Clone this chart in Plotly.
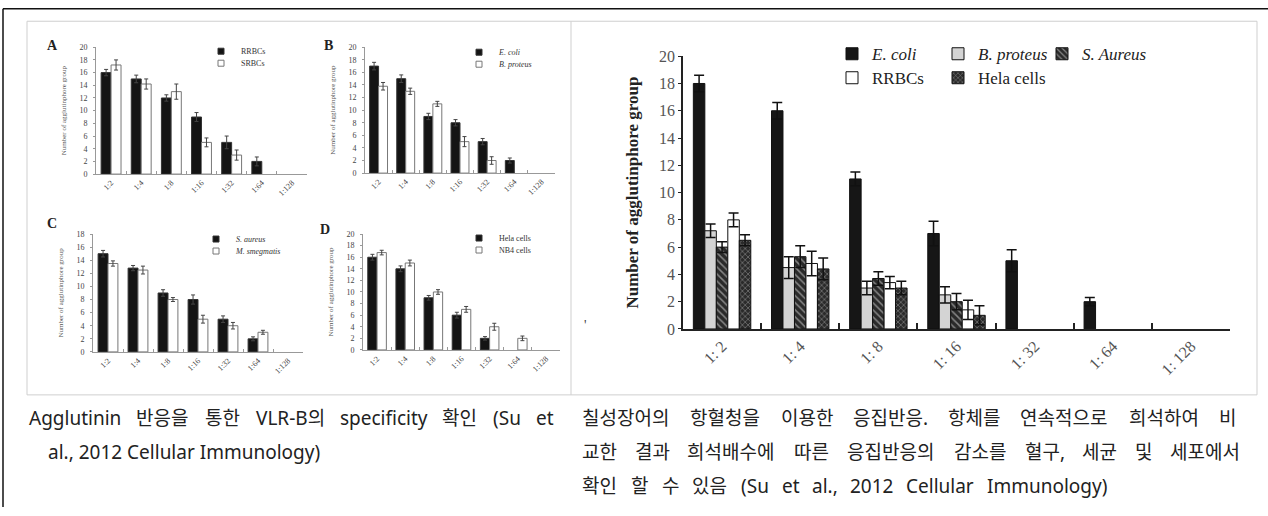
import plotly.graph_objects as go

W, H = 1268, 516
SERIF = "Liberation Serif"
CAP_FONT = "Noto Sans, Noto Sans CJK KR"
CAP_SIZE = 19

# ---------------- data ----------------
cats_small = ["1:2", "1:4", "1:8", "1:16", "1:32", "1:64", "1:128"]
cats_main = ["1: 2", "1: 4", "1: 8", "1: 16", "1: 32", "1: 64", "1: 128"]

a_rrbc = [16, 15, 12, 9, 5, 2, 0]
a_rrbc_err = [0.5, 0.6, 0.5, 0.7, 1.0, 0.7, 0]
a_srbc = [17.2, 14.2, 13, 5, 3, 0, 0]
a_srbc_err = [0.8, 0.8, 1.2, 0.7, 0.8, 0, 0]

b_ecoli = [17, 15, 9, 8, 5, 2, 0]
b_ecoli_err = [0.6, 0.6, 0.5, 0.5, 0.5, 0.4, 0]
b_bprot = [13.8, 13, 11, 5, 2, 0, 0]
b_bprot_err = [0.6, 0.5, 0.4, 0.8, 0.6, 0, 0]

c_saur = [15, 12.8, 9, 8, 5, 2, 0]
c_saur_err = [0.5, 0.4, 0.5, 0.7, 0.5, 0.3, 0]
c_msmeg = [13.5, 12.5, 8, 5, 4, 3, 0]
c_msmeg_err = [0.4, 0.6, 0.3, 0.6, 0.5, 0.3, 0]

d_hela = [16, 14, 9, 6, 2, 0, 0]
d_hela_err = [0.5, 0.5, 0.4, 0.5, 0.3, 0, 0]
d_nb4 = [16.8, 15, 10, 7, 4, 2, 0]
d_nb4_err = [0.4, 0.5, 0.4, 0.5, 0.6, 0.4, 0]

m_ecoli = [18, 16, 11, 7, 5, 2, 0]
m_ecoli_err = [0.6, 0.6, 0.5, 0.9, 0.8, 0.3, 0]
m_bprot = [7.2, 4.5, 3.0, 2.5, 0, 0, 0]
m_bprot_err = [0.5, 0.8, 0.5, 0.6, 0, 0, 0]
m_saur = [6.0, 5.3, 3.7, 2.0, 0, 0, 0]
m_saur_err = [0.4, 0.8, 0.5, 0.6, 0, 0, 0]
m_rrbc = [8.0, 4.8, 3.4, 1.4, 0, 0, 0]
m_rrbc_err = [0.5, 0.9, 0.45, 0.7, 0, 0, 0]
m_hela = [6.5, 4.4, 3.0, 1.0, 0, 0, 0]
m_hela_err = [0.4, 0.8, 0.5, 0.7, 0, 0, 0]

caption_left = ["Agglutinin 반응을 통한 VLR-B의 specificity 확인 (Su et",
                "al., 2012 Cellular Immunology)"]
caption_right = ["칠성장어의 항혈청을 이용한 응집반응. 항체를 연속적으로 희석하여 비",
                 "교한 결과 희석배수에 따른 응집반응의 감소를 혈구, 세균 및 세포에서",
                 "확인 할 수 있음 (Su et al., 2012 Cellular Immunology)"]

# the page photo is squeezed vertically a little; place things so they land right
Y_OFF, Y_SCALE = 7.74, 0.968


def px_x(p):
    return p / W


def px_y(p):
    page = (p - Y_OFF) / Y_SCALE
    return 1 - page / H


def nz(vals):
    # no bar is drawn where no agglutination was seen
    return [v if v else None for v in vals]


# rough advance widths (em) used to justify caption words like the original
LAT = {"a": .56, "b": .62, "c": .48, "d": .62, "e": .56, "f": .34, "g": .62, "h": .62,
       "i": .26, "j": .26, "k": .53, "l": .26, "m": .94, "n": .62, "o": .6, "p": .62,
       "q": .62, "r": .41, "s": .48, "t": .36, "u": .62, "v": .51, "w": .79, "x": .53,
       "y": .51, "z": .47, "A": .64, "B": .65, "C": .63, "I": .33, "L": .52, "R": .62,
       "S": .55, "V": .62, "-": .32, "(": .3, ")": .3, ",": .26, ".": .27, " ": .26}


def text_w(s, size):
    w = 0.0
    for ch in s:
        if "\uac00" <= ch <= "\ud7a3":
            w += 0.95
        elif ch.isdigit():
            w += .57
        else:
            w += LAT.get(ch, .55)
    return w * size


def word_layout(line, x_start, x_end, size):
    words = line.split(" ")
    widths = [text_w(wd, size) for wd in words]
    gap = (x_end - x_start - sum(widths)) / (len(words) - 1)
    out, cur = [], x_start
    for wd, w in zip(words, widths):
        out.append((wd, cur))
        cur += w + gap
    return out


fig = go.Figure()
annotations = []
legends = {}
leg_count = [0]


def new_legend(text_x, yc, size):
    leg_count[0] += 1
    n = leg_count[0]
    lname = "legend" if n == 1 else "legend%d" % n
    legends[lname] = dict(
        x=px_x(text_x - 41), y=px_y(yc), xanchor="left", yanchor="middle",
        bgcolor="rgba(0,0,0,0)", borderwidth=0,
        font=dict(family=SERIF, size=size, color="#222" if size > 10 else "#333"))
    return lname


# ---------------- small panels ----------------
panels = [
    ("A", "", (96, 307), (174, 47), 20,
     [("RRBCs", a_rrbc, a_rrbc_err, True), ("SRBCs", a_srbc, a_srbc_err, False)],
     (53, 45), (242, 51)),
    ("B", "2", (365, 555), (173, 47), 20,
     [("<i>E. coli</i>", b_ecoli, b_ecoli_err, True), ("<i>B. proteus</i>", b_bprot, b_bprot_err, False)],
     (328, 45), (500, 52)),
    ("C", "3", (93, 303), (352, 234), 18,
     [("<i>S. aureus</i>", c_saur, c_saur_err, True), ("<i>M. smegmatis</i>", c_msmeg, c_msmeg_err, False)],
     (52, 223), (237, 239)),
    ("D", "4", (363, 560), (350, 234), 20,
     [("Hela cells", d_hela, d_hela_err, True), ("NB4 cells", d_nb4, d_nb4_err, False)],
     (325, 229), (500, 238)),
]

for letter, sfx, (x0, x1), (y0, y1), ymax, series, lpos, legpos in panels:
    xa = "x" + sfx
    ya = "y" + sfx
    for k, (name, vals, errs, dark) in enumerate(series):
        fig.add_trace(go.Bar(
            x=cats_small, y=nz(vals), xaxis=xa, yaxis=ya,
            width=0.33, offset=-0.33 if k == 0 else 0.0,
            marker=dict(color="#141414" if dark else "white",
                        line=dict(color="#333" if dark else "#777", width=1)),
            error_y=dict(type="data", array=errs, visible=True, color="#444",
                         thickness=1, width=2),
            showlegend=False, name=name))
        lname = new_legend(legpos[0], legpos[1] + 12 * k, 8)
        fig.add_trace(go.Scatter(
            x=[None], y=[None], xaxis=xa, yaxis=ya, mode="markers", name=name,
            marker=dict(symbol="square", size=6,
                        color="#141414" if dark else "white",
                        line=dict(color="#333" if dark else "#777", width=1)),
            legend=lname, showlegend=True))
    annotations.append(dict(text="<b>%s</b>" % letter, x=px_x(lpos[0]), y=px_y(lpos[1]),
                            xref="paper", yref="paper", xanchor="center", yanchor="middle",
                            showarrow=False,
                            font=dict(family=SERIF, size=14, color="#222")))
    xkey = "xaxis" + sfx
    ykey = "yaxis" + sfx
    fig.layout[xkey] = dict(
        domain=[px_x(x0), px_x(x1)], anchor=ya, type="category", range=[-0.5, 6.5],
        showline=True, linecolor="#999", linewidth=1, ticks="inside", ticklen=3,
        tickcolor="#999", tickson="boundaries", tickangle=-45, showgrid=False,
        zeroline=False, tickfont=dict(family=SERIF, size=8, color="#444"))
    fig.layout[ykey] = dict(
        domain=[px_y(y0), px_y(y1)], anchor=xa, range=[0, ymax], dtick=2,
        showline=True, linecolor="#999", linewidth=1, ticks="outside", ticklen=2,
        tickcolor="#999", showgrid=False, zeroline=False, ticklabelstandoff=4,
        tickfont=dict(family=SERIF, size=8, color="#444"),
        title=dict(text="Number of agglutinphore group", standoff=11,
                   font=dict(family=SERIF, size=7, color="#555")))

# ---------------- main panel ----------------
main_series = [
    ("<i>E. coli</i>", m_ecoli, m_ecoli_err, dict(color="#161616"), (873, 54)),
    ("<i>B. proteus</i>", m_bprot, m_bprot_err, dict(color="#d4d4d4"), (979, 54)),
    ("<i>S. Aureus</i>", m_saur, m_saur_err,
     dict(color="#2a2a2a", pattern=dict(shape="\\", fgcolor="#e0e0e0", bgcolor="#2a2a2a",
                                        size=5, solidity=0.3)), (1083, 54)),
    ("RRBCs", m_rrbc, m_rrbc_err, dict(color="white"), (873, 78)),
    ("Hela cells", m_hela, m_hela_err,
     dict(color="#2a2a2a", pattern=dict(shape="x", fgcolor="#d8d8d8", bgcolor="#2a2a2a",
                                        size=4, solidity=0.3)), (979, 78)),
]
bw = 0.147
for k, (name, vals, errs, mk, lp) in enumerate(main_series):
    mk = dict(mk)
    mk["line"] = dict(color="#111", width=1)
    lname = new_legend(lp[0], lp[1], 17)
    fig.add_trace(go.Bar(
        x=cats_main, y=nz(vals), xaxis="x5", yaxis="y5", name=name,
        width=bw, offset=-2.5 * bw + k * bw, marker=mk,
        error_y=dict(type="data", array=errs, visible=True, color="#111",
                     thickness=1.5, width=5),
        legend=lname, showlegend=True))

fig.layout["xaxis5"] = dict(
    domain=[px_x(683), px_x(1230)], anchor="y5", type="category", range=[-0.5, 6.5],
    showline=True, linecolor="#222", linewidth=1.5, ticks="inside", ticklen=6,
    tickcolor="#222", tickwidth=1.5, tickson="boundaries", tickangle=-45,
    showgrid=False, zeroline=False,
    tickfont=dict(family=SERIF, size=16, color="#555"))
fig.layout["yaxis5"] = dict(
    domain=[px_y(329), px_y(56)], anchor="x5", range=[0, 20], dtick=2,
    showline=True, linecolor="#222", linewidth=1.5, ticks="outside", ticklen=3,
    tickcolor="#222", showgrid=False, zeroline=False,
    tickfont=dict(family=SERIF, size=16, color="#555"),
    title=dict(text="<b>Number of agglutinphore group</b>", standoff=16,
               font=dict(family=SERIF, size=17, color="#222")))

# small stray mark left of the main panel in the original
annotations.append(dict(text="'", x=px_x(585), y=px_y(326), xref="paper", yref="paper",
                        xanchor="center", yanchor="middle", showarrow=False,
                        font=dict(family=SERIF, size=14, color="#444")))

# ---------------- captions (word by word, justified like the original) ----------------
cap_lines = [
    (caption_left[0], 27, 551, 418, True),
    (caption_left[1], 46, 316, 452, False),
    (caption_right[0], 580, 1235, 418, True),
    (caption_right[1], 580, 1240, 452, True),
    (caption_right[2], 580, 1105, 486, True),
]
for line, xs, xe, yc, justify in cap_lines:
    pieces = word_layout(line, xs, xe, CAP_SIZE) if justify else [(line, xs)]
    for wd, xw in pieces:
        annotations.append(dict(text=wd, x=px_x(xw), y=px_y(yc), xref="paper", yref="paper",
                                xanchor="left", yanchor="middle", showarrow=False,
                                font=dict(family=CAP_FONT, size=CAP_SIZE, color="#222")))

top_y = 1 - 0.75 / H
shapes = [
    dict(type="line", xref="paper", yref="paper", x0=px_x(3), x1=1, y0=top_y, y1=top_y,
         line=dict(color="#111", width=1.5)),
    dict(type="line", xref="paper", yref="paper", x0=px_x(3), x1=px_x(3), y0=0, y1=top_y,
         line=dict(color="#111", width=1.5)),
    dict(type="rect", xref="paper", yref="paper", x0=px_x(27), x1=px_x(1257),
         y0=px_y(395), y1=px_y(21), line=dict(color="#cfcfcf", width=1)),
    dict(type="line", xref="paper", yref="paper", x0=px_x(571), x1=px_x(571),
         y0=px_y(395), y1=px_y(21), line=dict(color="#cfcfcf", width=1)),
]

fig.update_layout(
    width=W, height=H, margin=dict(l=0, r=0, t=0, b=0),
    paper_bgcolor="white", plot_bgcolor="rgba(0,0,0,0)",
    barmode="overlay", annotations=annotations, shapes=shapes,
    **legends)

fig.write_html(
    "out.html",
    config={"displayModeBar": False},
    post_script=("document.documentElement.style.margin='0';"
                 "document.body.style.margin='0';"
                 "document.body.style.overflow='hidden';"))
